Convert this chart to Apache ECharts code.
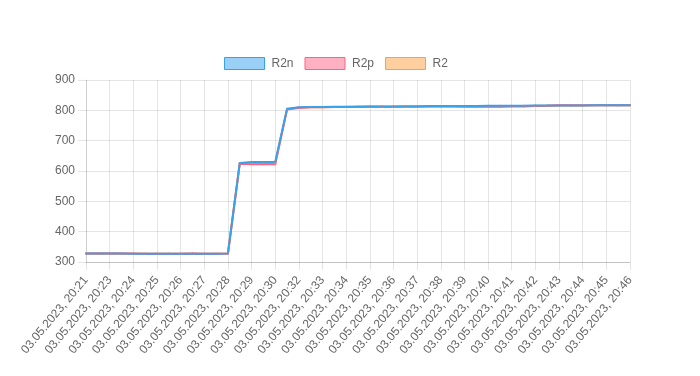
<!DOCTYPE html>
<html lang="en">
<head>
    <meta charset="UTF-8">
    <title>R2</title>
    <script src="https://cdn.jsdelivr.net/npm/echarts@6/dist/echarts.min.js"></script>
    <style type="text/css">
        body{
            margin:0;
        }
    </style>
</head>
<body>
<div id="main" style="width: 700px;height:376px;"></div>
<script type="text/javascript">
    var times = ['20:21','20:22','20:23','20:23','20:24','20:24','20:25','20:25','20:26','20:26',
        '20:27','20:27','20:28','20:28','20:29','20:29','20:30','20:31','20:32','20:32',
        '20:33','20:33','20:34','20:34','20:35','20:35','20:36','20:36','20:37','20:37',
        '20:38','20:38','20:39','20:39','20:40','20:40','20:41','20:41','20:42','20:42',
        '20:43','20:43','20:44','20:44','20:45','20:45','20:46'];
    var r2n = [328,328,328,328,327,327,327,327,327,327,327,327,328,626,630,630,630,805,810,811,
        811,812,812,812,813,813,813,813,813,814,814,814,814,814,815,815,815,815,816,816,
        816,816,816,817,817,817,817];
    var r2p = [328,328,328,328,328,327,327,327,327,328,327,327,328,624,622,622,622,803,808,810,
        810,811,811,812,812,812,812,813,813,813,813,813,812,812,812,812,813,813,814,815,
        817,817,817,817,817,817,817];
    var r2 = [328,328,328,328,327,327,327,327,327,327,327,327,328,625,626,626,626,804,809,810,
        810,811,811,812,812,812,812,813,813,813,813,813,813,813,813,813,814,814,815,815,
        816,816,816,817,817,817,817];
    var yTicks = [300, 900, 100];

    var cats = [];
    for (var i = 0; i < times.length; i++) {
        cats.push('03.05.2023, ' + times[i]);
    }

    var font = "'Liberation Sans', Arial, sans-serif";
    var gridColor = 'rgba(0,0,0,0.1)';

    function lineSeries(name, data, color) {
        return {
            name: name,
            type: 'line',
            data: data,
            symbol: 'circle',
            symbolSize: 2,
            showSymbol: true,
            lineStyle: {color: color, width: 2},
            itemStyle: {color: color},
            emphasis: {disabled: true}
        };
    }

    var myChart = echarts.init(document.getElementById('main'));
    var option = {
        animation: false,
        textStyle: {fontFamily: font},
        legend: {
            top: 57,
            left: 224,
            padding: 0,
            icon: 'rect',
            itemWidth: 40,
            itemHeight: 12,
            itemGap: 11,
            textStyle: {color: '#666', fontSize: 12, fontFamily: font, padding: [0, 0, 0, 2]},
            data: [
                {name: 'R2n', itemStyle: {color: 'rgba(54,162,235,0.5)', borderColor: 'rgb(54,162,235)', borderWidth: 1}},
                {name: 'R2p', itemStyle: {color: 'rgba(255,99,132,0.5)', borderColor: 'rgb(255,99,132)', borderWidth: 1}},
                {name: 'R2', itemStyle: {color: 'rgba(255,159,64,0.5)', borderColor: 'rgb(255,159,64)', borderWidth: 1}}
            ]
        },
        grid: {left: 86, right: 70, top: 80, bottom: 114, containLabel: false},
        xAxis: {
            type: 'category',
            data: cats,
            boundaryGap: false,
            axisLine: {show: true, lineStyle: {color: 'rgba(0,0,0,0.15)'}},
            axisTick: {show: true, interval: 1, length: 8, lineStyle: {color: gridColor}},
            splitLine: {show: true, interval: 1, lineStyle: {color: gridColor}},
            axisLabel: {interval: 1, rotate: 50, margin: 16, color: '#666', fontSize: 12, fontFamily: font}
        },
        yAxis: {
            type: 'value',
            min: yTicks[0],
            max: yTicks[1],
            interval: yTicks[2],
            axisLine: {show: true, lineStyle: {color: gridColor}},
            axisTick: {show: true, length: 8, lineStyle: {color: gridColor}},
            splitLine: {show: true, lineStyle: {color: gridColor}},
            axisLabel: {margin: 11, color: '#666', fontSize: 12, fontFamily: font}
        },
        series: [
            lineSeries('R2', r2, 'rgb(255,159,64)'),
            lineSeries('R2p', r2p, 'rgb(255,99,132)'),
            lineSeries('R2n', r2n, 'rgb(54,162,235)')
        ]
    };
    myChart.setOption(option);
</script>
</body>
</html>
